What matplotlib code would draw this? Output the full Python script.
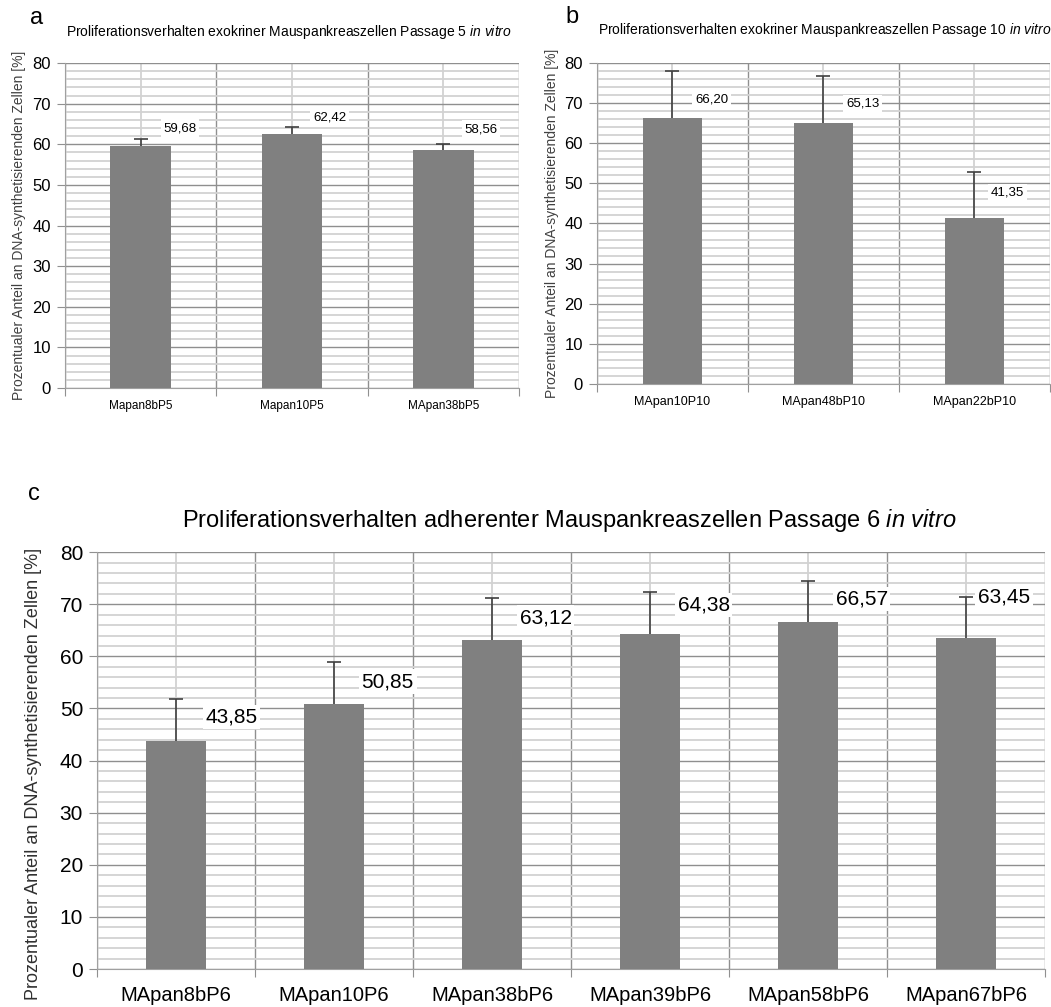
import numpy as np
import matplotlib.pyplot as plt

plt.rcParams['mathtext.fontset'] = 'custom'
plt.rcParams['mathtext.rm'] = 'Liberation Sans'
plt.rcParams['mathtext.it'] = 'Liberation Sans:italic'

# Daten
cats_a = ['Mapan8bP5', 'Mapan10P5', 'MApan38bP5']
vals_a = [59.68, 62.42, 58.56]
err_a = [1.6, 1.8, 1.6]

cats_b = ['MApan10P10', 'MApan48bP10', 'MApan22bP10']
vals_b = [66.20, 65.13, 41.35]
err_b = [11.7, 11.5, 11.5]

cats_c = ['MApan8bP6', 'MApan10P6', 'MApan38bP6', 'MApan39bP6', 'MApan58bP6', 'MApan67bP6']
vals_c = [43.85, 50.85, 63.12, 64.38, 66.57, 63.45]
err_c = [7.95, 8.05, 8.0, 7.9, 7.9, 8.0]

ylabel = 'Prozentualer Anteil an DNA-synthetisierenden Zellen [%]'

# Lage der Wertbeschriftungen (Versatz in x: Kategorie, y: Prozent)
lab_dx_a, lab_dy_a = [0.26, 0.25, 0.25], [4.3, 4.1, 5.2]
lab_dx_b, lab_dy_b = [0.26, 0.26, 0.22], [4.6, 4.7, 6.3]
lab_dx_c, lab_dy_c = [0.35, 0.34, 0.34, 0.34, 0.34, 0.24], [4.5, 4.3, 4.3, 5.5, 4.4, 8.0]

FONT = ['Liberation Sans', 'DejaVu Sans']


def draw(ax, cats, vals, errs, dx, dy, tick_fs, cat_fs, val_fs, width, cat_pad):
    n = len(cats)
    x = np.arange(n)
    ax.bar(x, vals, width=width, color='#808080', zorder=3)
    _, caps, _ = ax.errorbar(x, vals, yerr=[np.zeros(n), errs], fmt='none', ecolor='#404040',
                             elinewidth=1.2, capsize=5, capthick=1.2, zorder=4)
    caps[0].set_visible(False)  # nur Fehlerbalken nach oben
    for i in range(n):
        ax.text(x[i] + dx[i], vals[i] + dy[i], f'{vals[i]:.2f}'.replace('.', ','),
                ha='center', va='center', fontsize=val_fs, family=FONT, zorder=5,
                bbox=dict(facecolor='white', edgecolor='none', pad=2))
    ax.set_xlim(-0.5, n - 0.5)
    ax.set_ylim(0, 80)
    ax.set_yticks(np.arange(0, 81, 10))
    ax.set_yticks(np.arange(0, 81, 2), minor=True)
    ax.set_xticks(np.arange(n + 1) - 0.5)
    ax.set_xticklabels([])
    ax.set_xticks(x, minor=True)
    ax.set_xticklabels(cats, minor=True, fontsize=cat_fs, family=FONT)
    ax.set_yticklabels([str(v) for v in range(0, 81, 10)], fontsize=tick_fs, family=FONT)
    ax.grid(which='major', axis='both', color='#8f8f8f', lw=1.0)
    ax.grid(which='minor', axis='y', color='#d2d2d2', lw=1.3)
    ax.grid(which='minor', axis='x', color='#d2d2d2', lw=1.3)
    ax.set_axisbelow(True)
    for s in ['top', 'right']:
        ax.spines[s].set_visible(False)
    for s in ['left', 'bottom']:
        ax.spines[s].set_color('#a0a0a0')
    ax.tick_params(axis='y', which='major', length=6, color='#909090', pad=4)
    ax.tick_params(axis='y', which='minor', length=0)
    ax.tick_params(axis='x', which='major', length=6, color='#909090')
    ax.tick_params(axis='x', which='minor', length=0, pad=cat_pad)


fig = plt.figure(figsize=(10.51, 10.07), dpi=100)

ax_a = fig.add_axes([0.0618, 0.6147, 0.432, 0.3227])
draw(ax_a, cats_a, vals_a, err_a, lab_dx_a, lab_dy_a, 12, 8.5, 9.5, 0.4, 9)
ax_a.set_ylabel(ylabel, fontsize=10, family=FONT, color='#404040')
ax_a.yaxis.set_label_coords(-0.085, 0.5)

ax_b = fig.add_axes([0.568, 0.6187, 0.431, 0.3188])
draw(ax_b, cats_b, vals_b, err_b, lab_dx_b, lab_dy_b, 12, 9, 9.5, 0.39, 9)
ax_b.set_ylabel(ylabel, fontsize=10, family=FONT, color='#404040')
ax_b.yaxis.set_label_coords(-0.083, 0.5)

ax_c = fig.add_axes([0.0923, 0.0377, 0.902, 0.414])
draw(ax_c, cats_c, vals_c, err_c, lab_dx_c, lab_dy_c, 15, 14.5, 15, 0.38, 12)
ax_c.set_ylabel(ylabel, fontsize=13, family=FONT, color='#303030')
ax_c.yaxis.set_label_coords(-0.058, 0.468)

# Titel und Buchstaben
fig.text(289 / 1051, 1 - 32 / 1007, 'Proliferationsverhalten exokriner Mauspankreaszellen Passage 5 $\\it{in\\ vitro}$',
         ha='center', va='center', fontsize=10, family=FONT)
fig.text(598 / 1051, 1 - 30 / 1007, 'Proliferationsverhalten exokriner Mauspankreaszellen Passage 10 $\\it{in\\ vitro}$',
         ha='left', va='center', fontsize=10, family=FONT)
fig.text(569 / 1051, 1 - 520 / 1007, 'Proliferationsverhalten adherenter Mauspankreaszellen Passage 6 $\\it{in\\ vitro}$',
         ha='center', va='center', fontsize=17, family=FONT)
fig.text(37 / 1051, 1 - 18 / 1007, 'a', ha='center', va='center', fontsize=17, family=FONT)
fig.text(572 / 1051, 1 - 17 / 1007, 'b', ha='center', va='center', fontsize=17, family=FONT)
fig.text(34 / 1051, 1 - 494 / 1007, 'c', ha='center', va='center', fontsize=17, family=FONT)

fig.savefig('out.png', dpi=100, facecolor='white')
